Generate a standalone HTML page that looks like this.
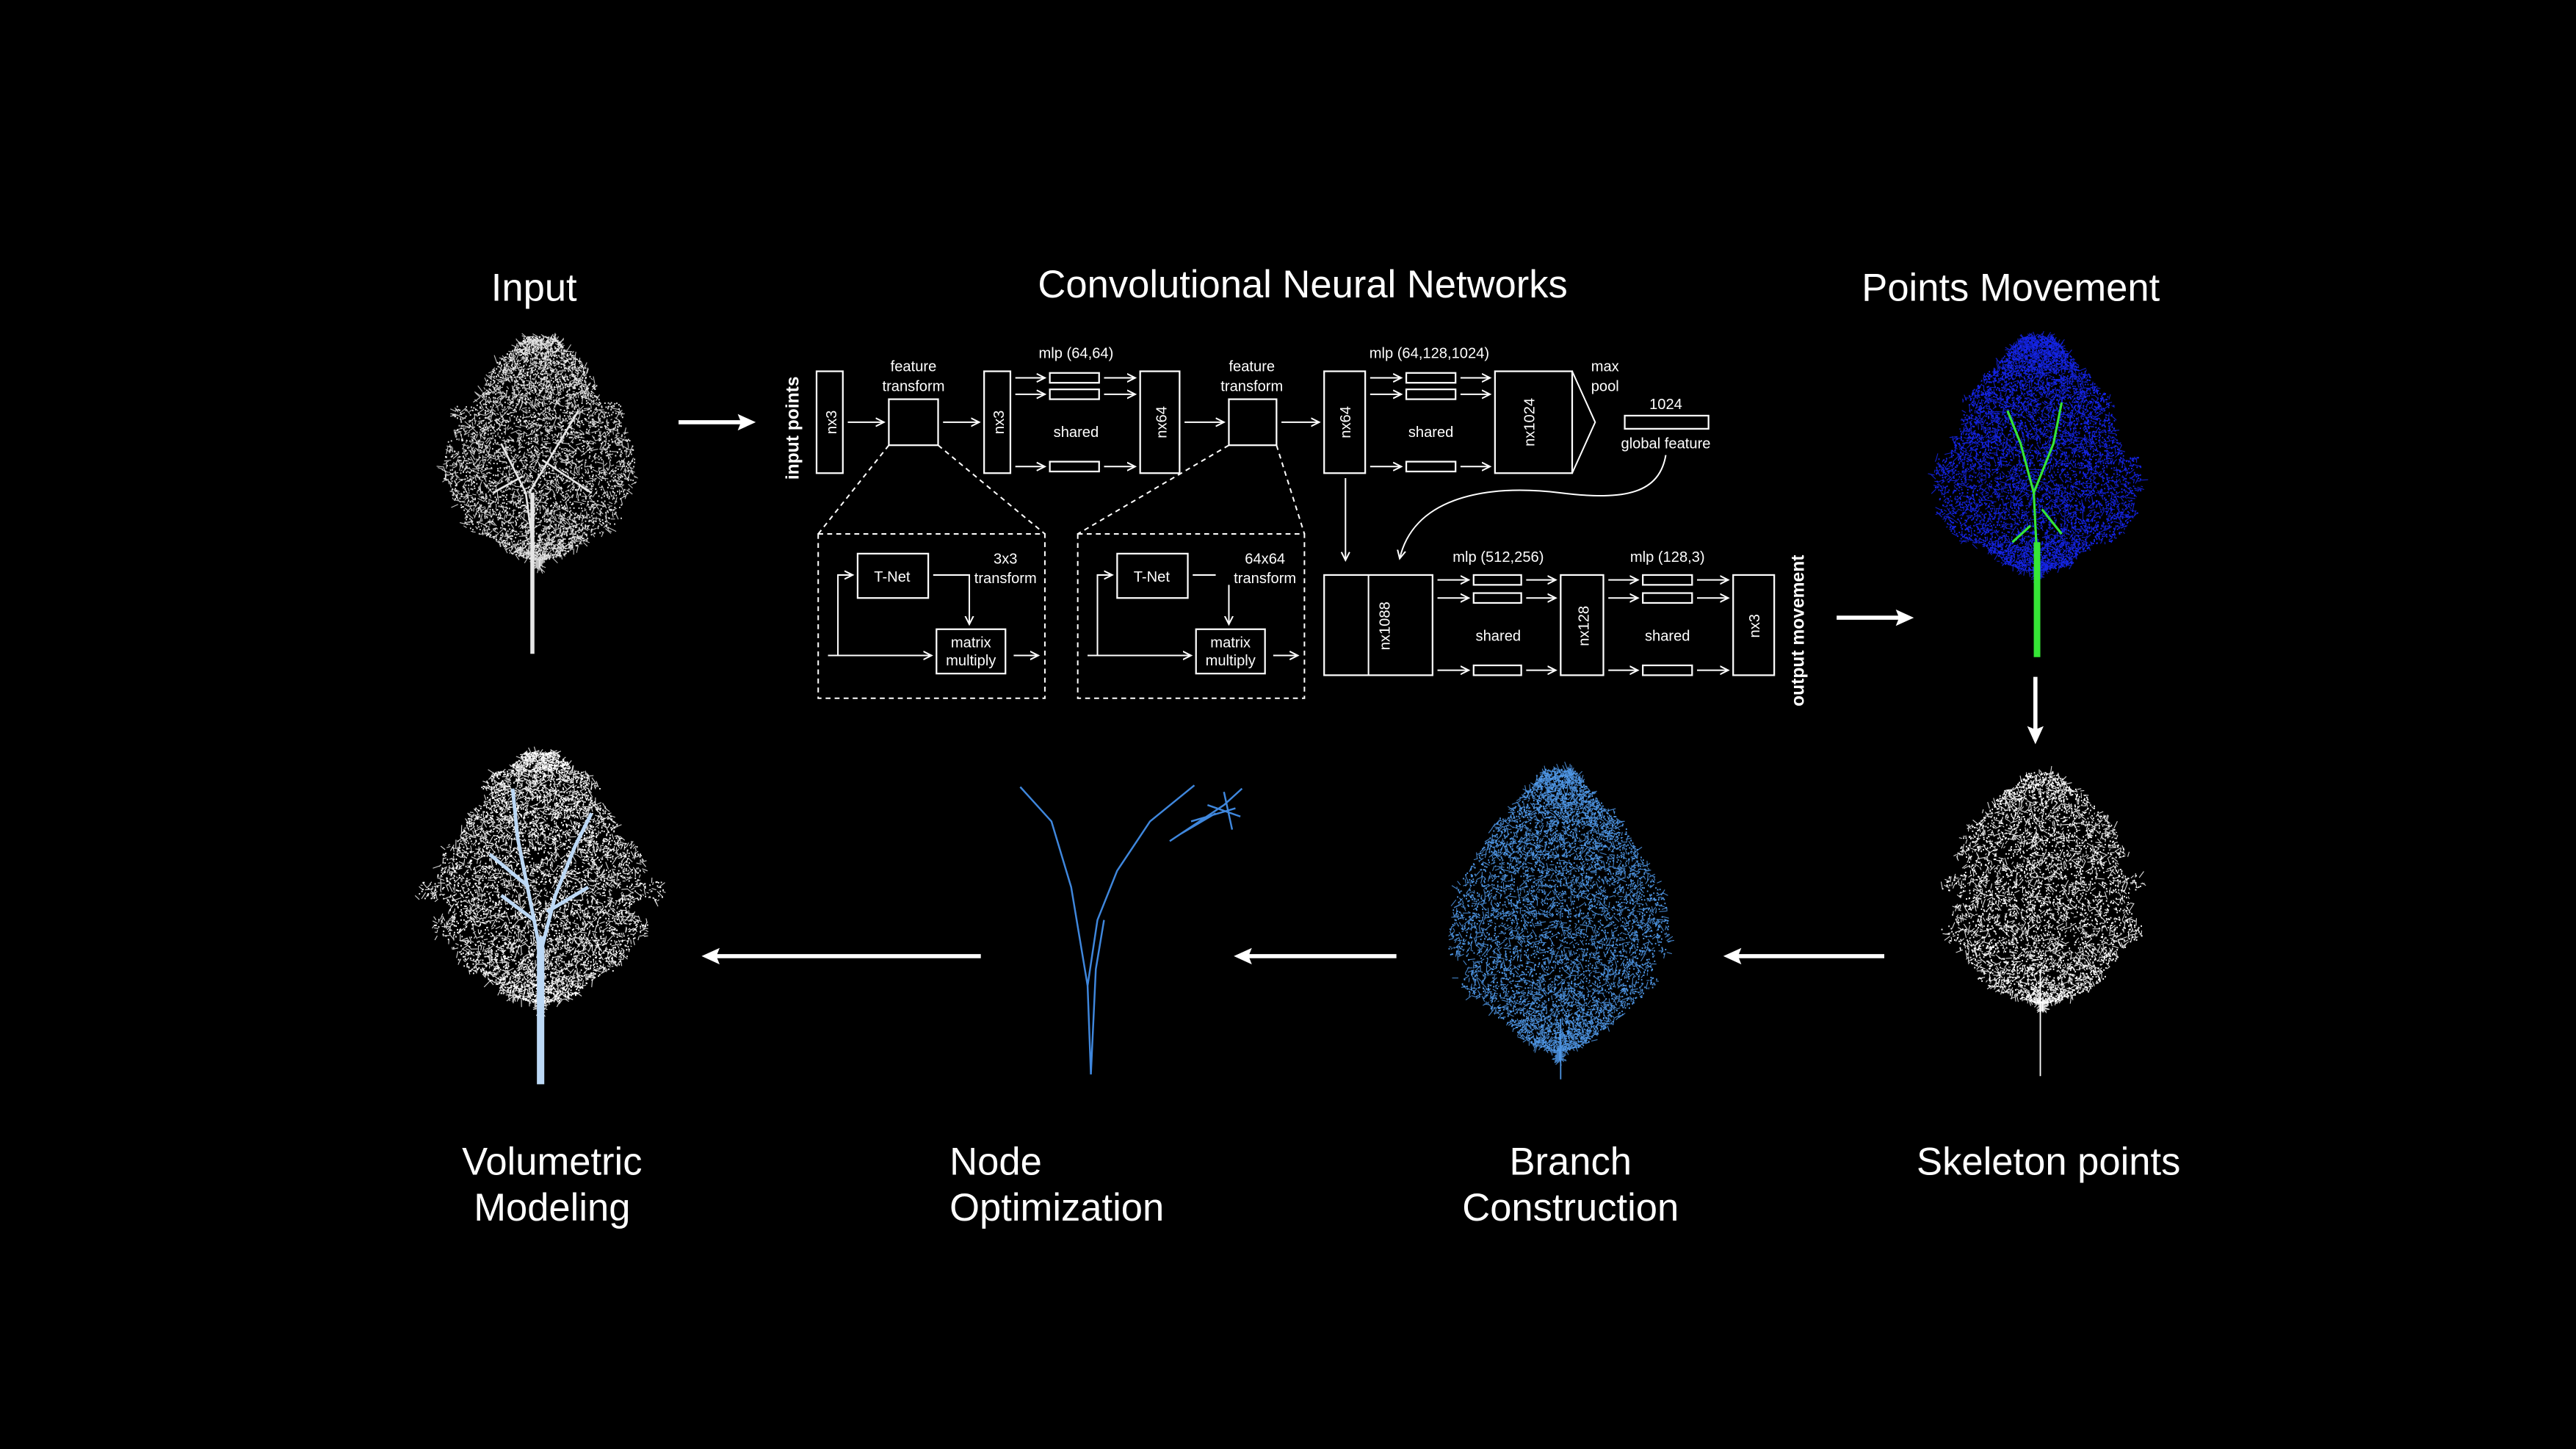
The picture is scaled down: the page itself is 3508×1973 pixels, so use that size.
<!DOCTYPE html>
<html><head><meta charset="utf-8">
<style>
html,body{margin:0;padding:0;background:#000;}
svg{display:block;}
.t{font-family:"Liberation Sans",sans-serif;fill:#fff;}
.s{font-family:"Liberation Sans",sans-serif;fill:#fff;font-size:9px;text-anchor:middle;}
.b{fill:none;stroke:#fff;stroke-width:1;}
.l{stroke:#fff;stroke-width:0.9;fill:none;}
.d{stroke:#fff;stroke-width:0.9;fill:none;stroke-dasharray:3,2.5;}
</style></head>
<body>
<svg id="sv" width="3508" height="1973" viewBox="0 0 1568 882" xmlns="http://www.w3.org/2000/svg">
<defs>
<marker id="ah" markerWidth="6" markerHeight="6" refX="5" refY="3" orient="auto" markerUnits="userSpaceOnUse">
<path d="M0,0.5 L5,3 L0,5.5" fill="none" stroke="#fff" stroke-width="0.9"/></marker>
</defs>
<rect width="1568" height="882" fill="#000"/>

<g class="t" font-size="23.5" text-anchor="middle">
<text x="325" y="183">Input</text>
<text x="793" y="181">Convolutional Neural Networks</text>
<text x="1224" y="183">Points Movement</text>
<text x="336" y="715">Volumetric</text>
<text x="336" y="743">Modeling</text>
<text x="956" y="715">Branch</text>
<text x="956" y="743">Construction</text>
<text x="1247" y="715">Skeleton points</text>
</g>
<text class="t" font-size="23.5" x="578" y="715">Node</text>
<text class="t" font-size="23.5" x="578" y="743">Optimization</text>

<g stroke="#fff" stroke-width="2.5">
<line x1="413" y1="257" x2="452" y2="257"/>
<line x1="1118" y1="376" x2="1157" y2="376"/>
<line x1="1239" y1="412" x2="1239" y2="446"/>
<line x1="1147" y1="582" x2="1057" y2="582"/>
<line x1="850" y1="582" x2="759" y2="582"/>
<line x1="597" y1="582" x2="435" y2="582"/>
</g>
<g fill="#fff">
<path d="M460,257 L449,252 L451,257 L449,262Z"/>
<path d="M1165,376 L1154,371 L1156,376 L1154,381Z"/>
<path d="M1239,453 L1234,442 L1239,444 L1244,442Z"/>
<path d="M1049,582 L1060,577 L1058,582 L1060,587Z"/>
<path d="M751,582 L762,577 L760,582 L762,587Z"/>
<path d="M427,582 L438,577 L436,582 L438,587Z"/>
</g>

<text class="t" font-size="11" font-weight="bold" transform="translate(486,292) rotate(-90)">input points</text>
<text class="t" font-size="11" font-weight="bold" transform="translate(1098,430) rotate(-90)">output movement</text>

<rect class="b" x="497" y="226" width="16" height="62"/>
<text class="s" transform="translate(509,257) rotate(-90)">nx3</text>
<line class="l" x1="516" y1="257" x2="538" y2="257" marker-end="url(#ah)"/>
<rect class="b" x="541" y="243" width="30" height="28"/>
<text class="s" x="556" y="226">feature</text><text class="s" x="556" y="238">transform</text>
<line class="l" x1="574" y1="257" x2="596" y2="257" marker-end="url(#ah)"/>
<rect class="b" x="599" y="226" width="16" height="62"/>
<text class="s" transform="translate(611,257) rotate(-90)">nx3</text>
<text class="s" x="655" y="218">mlp (64,64)</text>
<line class="l" x1="618" y1="230" x2="636" y2="230" marker-end="url(#ah)"/>
<line class="l" x1="618" y1="240" x2="636" y2="240" marker-end="url(#ah)"/>
<line class="l" x1="618" y1="284" x2="636" y2="284" marker-end="url(#ah)"/>
<rect class="b" x="639" y="227" width="30" height="6"/>
<rect class="b" x="639" y="237" width="30" height="6"/>
<rect class="b" x="639" y="281" width="30" height="6"/>
<line class="l" x1="672" y1="230" x2="691" y2="230" marker-end="url(#ah)"/>
<line class="l" x1="672" y1="240" x2="691" y2="240" marker-end="url(#ah)"/>
<line class="l" x1="672" y1="284" x2="691" y2="284" marker-end="url(#ah)"/>
<text class="s" x="655" y="266">shared</text>
<rect class="b" x="694" y="226" width="24" height="62"/>
<text class="s" transform="translate(710,257) rotate(-90)">nx64</text>
<line class="l" x1="721" y1="257" x2="745" y2="257" marker-end="url(#ah)"/>
<rect class="b" x="748" y="243" width="29" height="28"/>
<text class="s" x="762" y="226">feature</text><text class="s" x="762" y="238">transform</text>
<line class="l" x1="780" y1="257" x2="803" y2="257" marker-end="url(#ah)"/>
<rect class="b" x="806" y="226" width="25" height="62"/>
<text class="s" transform="translate(822,257) rotate(-90)">nx64</text>
<text class="s" x="870" y="218">mlp (64,128,1024)</text>
<line class="l" x1="834" y1="230" x2="853" y2="230" marker-end="url(#ah)"/>
<line class="l" x1="834" y1="240" x2="853" y2="240" marker-end="url(#ah)"/>
<line class="l" x1="834" y1="284" x2="853" y2="284" marker-end="url(#ah)"/>
<rect class="b" x="856" y="227" width="30" height="6"/>
<rect class="b" x="856" y="237" width="30" height="6"/>
<rect class="b" x="856" y="281" width="30" height="6"/>
<line class="l" x1="889" y1="230" x2="907" y2="230" marker-end="url(#ah)"/>
<line class="l" x1="889" y1="240" x2="907" y2="240" marker-end="url(#ah)"/>
<line class="l" x1="889" y1="284" x2="907" y2="284" marker-end="url(#ah)"/>
<text class="s" x="871" y="266">shared</text>
<rect class="b" x="910" y="226" width="47" height="62"/>
<text class="s" transform="translate(934,257) rotate(-90)">nx1024</text>
<path class="l" d="M957,226 L971,257 L957,288"/>
<text class="s" x="977" y="226">max</text><text class="s" x="977" y="238">pool</text>
<text class="s" x="1014" y="249">1024</text>
<rect class="b" x="989" y="253" width="51" height="8"/>
<text class="s" x="1014" y="273">global feature</text>
<path class="l" d="M1014,277 C1010,300 990,305 950,300 C900,294 860,305 852,340" marker-end="url(#ah)"/>
<line class="l" x1="819" y1="291" x2="819" y2="341" marker-end="url(#ah)"/>

<line class="d" x1="541" y1="271" x2="498" y2="325"/>
<line class="d" x1="571" y1="271" x2="636" y2="325"/>
<rect class="d" x="498" y="325" width="138" height="100"/>
<line class="d" x1="748" y1="271" x2="656" y2="325"/>
<line class="d" x1="777" y1="271" x2="794" y2="325"/>
<rect class="d" x="656" y="325" width="138" height="100"/>

<g id="tn1">
<rect class="b" x="522" y="337" width="43" height="27"/>
<text class="s" x="543" y="354" font-size="10">T-Net</text>
<polyline class="l" points="568,350 590,350 590,380" marker-end="url(#ah)"/>
<text class="s" x="612" y="343">3x3</text><text class="s" x="612" y="355">transform</text>
<rect class="b" x="570" y="383" width="42" height="27"/>
<text class="s" x="591" y="394">matrix</text><text class="s" x="591" y="405">multiply</text>
<polyline class="l" points="504,399 510,399 510,350 519,350" marker-end="url(#ah)"/>
<line class="l" x1="504" y1="399" x2="567" y2="399" marker-end="url(#ah)"/>
<line class="l" x1="617" y1="399" x2="632" y2="399" marker-end="url(#ah)"/>
</g>
<use href="#tn1" x="158" y="0"/>
<rect x="740" y="336" width="52" height="20" fill="#000"/>
<text class="s" x="770" y="343">64x64</text><text class="s" x="770" y="355">transform</text>

<rect class="b" x="806" y="350" width="66" height="61"/>
<line class="l" x1="833" y1="350" x2="833" y2="411"/>
<text class="s" transform="translate(846,381) rotate(-90)">nx1088</text>
<text class="s" x="912" y="342">mlp (512,256)</text>
<line class="l" x1="875" y1="353" x2="894" y2="353" marker-end="url(#ah)"/>
<line class="l" x1="875" y1="364" x2="894" y2="364" marker-end="url(#ah)"/>
<line class="l" x1="875" y1="408" x2="894" y2="408" marker-end="url(#ah)"/>
<rect class="b" x="897" y="350" width="29" height="6"/>
<rect class="b" x="897" y="361" width="29" height="6"/>
<rect class="b" x="897" y="405" width="29" height="6"/>
<line class="l" x1="929" y1="353" x2="947" y2="353" marker-end="url(#ah)"/>
<line class="l" x1="929" y1="364" x2="947" y2="364" marker-end="url(#ah)"/>
<line class="l" x1="929" y1="408" x2="947" y2="408" marker-end="url(#ah)"/>
<text class="s" x="912" y="390">shared</text>
<rect class="b" x="950" y="350" width="26" height="61"/>
<text class="s" transform="translate(967,381) rotate(-90)">nx128</text>
<text class="s" x="1015" y="342">mlp (128,3)</text>
<line class="l" x1="979" y1="353" x2="997" y2="353" marker-end="url(#ah)"/>
<line class="l" x1="979" y1="364" x2="997" y2="364" marker-end="url(#ah)"/>
<line class="l" x1="979" y1="408" x2="997" y2="408" marker-end="url(#ah)"/>
<rect class="b" x="1000" y="350" width="30" height="6"/>
<rect class="b" x="1000" y="361" width="30" height="6"/>
<rect class="b" x="1000" y="405" width="30" height="6"/>
<line class="l" x1="1033" y1="353" x2="1052" y2="353" marker-end="url(#ah)"/>
<line class="l" x1="1033" y1="364" x2="1052" y2="364" marker-end="url(#ah)"/>
<line class="l" x1="1033" y1="408" x2="1052" y2="408" marker-end="url(#ah)"/>
<text class="s" x="1015" y="390">shared</text>
<rect class="b" x="1055" y="350" width="25" height="61"/>
<text class="s" transform="translate(1071,381) rotate(-90)">nx3</text>

<g id="trees"></g>
</svg>
<script>
(function(){
var NS="http://www.w3.org/2000/svg";
var g=document.getElementById("trees");
function rng(s){return function(){s=(s*16807)%2147483647;return (s-1)/2147483646;};}
function add(d,c,w,op){var p=document.createElementNS(NS,"path");p.setAttribute("d",d);p.setAttribute("stroke",c);p.setAttribute("stroke-width",w);p.setAttribute("fill","none");if(op)p.setAttribute("opacity",op);g.appendChild(p);}
function tree(o){
  var r=rng(o.seed),H=o.bot-o.top,cx=(o.x1+o.x2)/2,hw=(o.x2-o.x1)/2;
  var lob=[];for(var k=0;k<14;k++)lob.push(0.8+r()*0.25);
  var d="",tw="";
  for(var i=0;i<o.n;i++){
    var t=Math.pow(r(),o.pw||1);
    var y=o.top+t*H;
    var prof=Math.pow(Math.sin(Math.PI*Math.min(1,t+0.03)),0.55)*(o.base+(1-o.base)*Math.min(1,t*1.4));
    var li=Math.floor(t*13.99);prof*=lob[li];
    var x=cx+(r()*2-1)*hw*prof;
    if(r()<o.tw){var a=r()*Math.PI*2,L=1+r()*4;tw+="M"+x.toFixed(1)+","+y.toFixed(1)+"l"+(Math.cos(a)*L).toFixed(1)+","+(Math.sin(a)*L).toFixed(1);}
    else d+="M"+x.toFixed(1)+","+y.toFixed(1)+"h0.8";
  }
  add(tw,o.color,0.5,0.85);
  add(d,o.color,0.9);
  if(o.branches){add(o.branches,o.bcolor||o.color,o.bw||1.2);}
  if(o.trunk)add("M"+o.trunk[0]+","+o.trunk[1]+"L"+o.trunk[0]+","+o.trunk[2],o.bcolor||o.color,o.trunk[3]);
}
tree({seed:11,x1:256,x2:400,top:205,bot:345,n:5000,base:0.55,tw:0.45,color:"#e6e6e6",
  trunk:[324,300,398,2.5],branches:"M324,330 L320,300 L305,270 M322,300 L340,270 L352,250 M318,290 L300,300 M330,280 L360,300"});
tree({seed:23,x1:1165,x2:1315,top:205,bot:352,n:6500,base:0.55,tw:0.45,color:"#1424e8",
  trunk:[1240,330,400,4],bcolor:"#36e636",bw:1.4,branches:"M1240,340 L1238,300 L1230,270 L1222,250 M1238,300 L1250,270 L1255,245 M1236,320 L1225,330 M1243,310 L1255,325"});
tree({seed:37,x1:1168,x2:1318,top:470,bot:615,n:4500,base:0.5,tw:0.45,color:"#ffffff",pw:0.85,
  trunk:[1242,590,655,0.8]});
tree({seed:41,x1:873,x2:1025,top:468,bot:645,n:6500,base:0.5,tw:0.5,color:"#4f97e6",
  trunk:[950,620,657,0.8]});
tree({seed:53,x1:248,x2:410,top:458,bot:615,n:6000,base:0.55,tw:0.5,color:"#ffffff",
  trunk:[329,570,660,4.5],bcolor:"#bcd8f5",bw:2.2,branches:"M329,580 L322,545 L315,510 L312,480 M329,580 L338,545 L350,515 L360,495 M325,560 L305,545 M333,555 L358,540 M322,540 L298,520"});
add("M664,654 L662,600 L652,540 L640,500 L621,479 M662,600 L668,560 L680,530 L700,500 L727,478 M664,654 L667,590 L672,560 M712,512 L730,500 L745,490 L756,480 M718,508 L740,495 M725,500 L752,492 M735,490 L755,497 M745,482 L750,505","#3f87dd",1.1);
})();
</script>
</body></html>
